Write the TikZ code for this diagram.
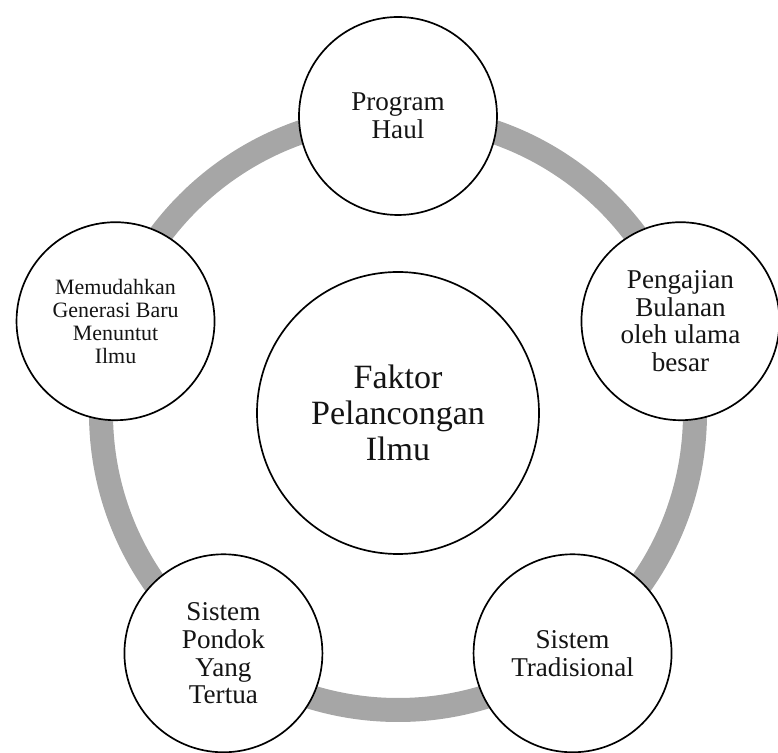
\documentclass[tikz,border=0pt]{standalone}
\usepackage{fontspec}
\setmainfont{Liberation Serif}
\usepackage{xcolor}
\usetikzlibrary{positioning, calc}
\definecolor{ringgray}{RGB}{166, 166, 166}
\definecolor{inkdark}{RGB}{20, 20, 20}
\tikzset{
    faktorbox/.style={
        circle, draw=black, fill=white, line width=1.2pt, inner sep=0pt,
        minimum size=4.95cm, align=center, text=inkdark,
        font=\fontsize{19.3}{19.8}\selectfont
    },
    smallfaktor/.style={faktorbox, font=\fontsize{15.6}{16.4}\selectfont},
    hubbox/.style={faktorbox, minimum size=7.05cm, font=\fontsize{24.2}{25.6}\selectfont},
    ring/.style={ringgray, line width=0.6cm},
}
\begin{document}
\begin{tikzpicture}
    \useasboundingbox (-9.95, -8.5) rectangle (9.5, 10.325);

    \coordinate (mid) at (0, 0);
    \draw[ring] (mid) circle (7.425);

    \node[hubbox] (hub) at (mid) {Faktor\\Pelancongan\\Ilmu};

    \node[faktorbox] (haul) at (90:7.425) {Program\\Haul};
    \node[faktorbox] (bulanan) at (18:7.425) {Pengajian\\Bulanan\\oleh ulama\\besar};
    \node[faktorbox] (tradisional) at (-54:7.425) {Sistem\\Tradisional};
    \node[faktorbox] (pondok) at (-126:7.425) {Sistem\\Pondok\\Yang\\Tertua};
    \node[smallfaktor] (generasi) at (162:7.425) {Memudahkan\\Generasi Baru\\Menuntut\\Ilmu};
\end{tikzpicture}
\end{document}
